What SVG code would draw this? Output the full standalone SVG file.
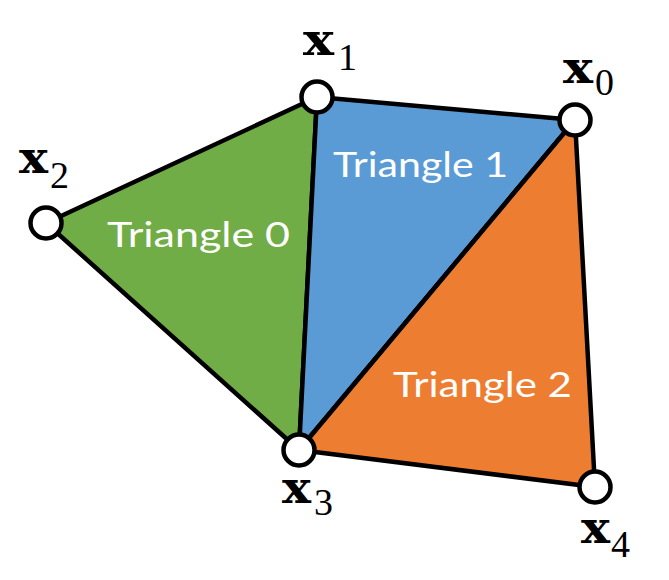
<svg xmlns="http://www.w3.org/2000/svg" width="669" height="580" viewBox="0 0 669 580">
<style>
.tri{stroke:#000;stroke-width:4.5;stroke-linejoin:round}
.lbl{font-family:"Lato","Open Sans",sans-serif;font-size:34px;fill:#fff}
.v{fill:#fff;stroke:#000;stroke-width:4.5}
.x{font-family:"DejaVu Serif",serif;font-weight:bold;font-size:45px;fill:#000}
.s{font-family:"Liberation Serif",serif;font-size:38px;fill:#000}
</style>
<rect width="669" height="580" fill="#fff"/>
<g id="triangle0">
<polygon class="tri" points="46,223 317,97 299,450" fill="#70AD47"/>
<text class="lbl" x="107" y="247" textLength="183" lengthAdjust="spacingAndGlyphs">Triangle 0</text>
</g>
<g id="triangle1">
<polygon class="tri" points="317,97 575,120 299,450" fill="#5B9BD5"/>
<text class="lbl" x="333" y="177" textLength="175" lengthAdjust="spacingAndGlyphs">Triangle 1</text>
</g>
<g id="triangle2">
<polygon class="tri" points="575,120 595,487 299,450" fill="#ED7D31"/>
<text class="lbl" x="393" y="397" textLength="179" lengthAdjust="spacingAndGlyphs">Triangle 2</text>
</g>
<g id="connectors">
<line x1="575" y1="120" x2="299" y2="450" stroke="#000" stroke-width="4"/>
</g>
<g id="v0"><circle class="v" cx="575" cy="120" r="15.5"/><text class="x" x="563" y="83" textLength="30" lengthAdjust="spacingAndGlyphs">x</text><text class="s" x="595" y="95">0</text></g>
<g id="v1"><circle class="v" cx="317" cy="97" r="15.5"/><text class="x" x="303" y="55" textLength="31" lengthAdjust="spacingAndGlyphs">x</text><text class="s" x="338" y="70">1</text></g>
<g id="v2"><circle class="v" cx="46" cy="223" r="15.5"/><text class="x" x="19" y="173" textLength="29" lengthAdjust="spacingAndGlyphs">x</text><text class="s" x="50" y="188">2</text></g>
<g id="v3"><circle class="v" cx="299" cy="450" r="15.5"/><text class="x" x="282" y="503" textLength="29" lengthAdjust="spacingAndGlyphs">x</text><text class="s" x="314" y="515">3</text></g>
<g id="v4"><circle class="v" cx="595" cy="487" r="15.5"/><text class="x" x="581" y="543" textLength="29" lengthAdjust="spacingAndGlyphs">x</text><text class="s" x="611" y="557">4</text></g>
</svg>
